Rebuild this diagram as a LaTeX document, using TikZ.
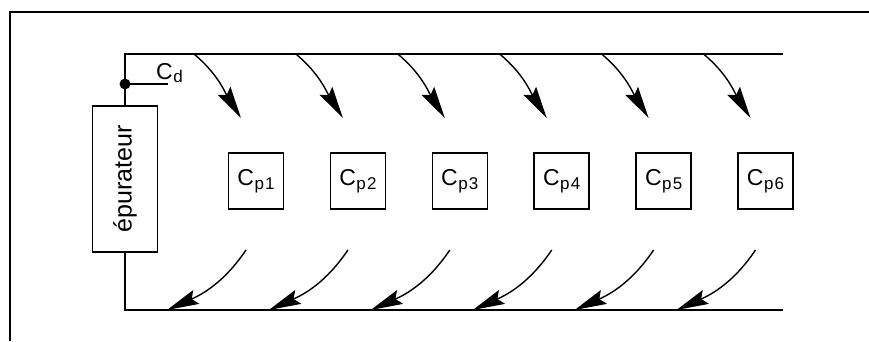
\documentclass[tikz,border=0pt]{standalone}
\usepackage{fontspec}
\setmainfont{Liberation Sans}
\usetikzlibrary{arrows.meta}
\begin{document}
\begin{tikzpicture}[x=1pt,y=1pt,
  pipe/.style={line width=1.7pt},
  cell/.style={draw,line width=1.6pt,minimum width=55pt,minimum height=56pt,inner sep=0pt,
    font=\fontsize{23}{23}\selectfont},
  flow/.style={line width=1.4pt,-{Stealth[length=32pt,width=15pt,inset=5pt]}}]
\useasboundingbox (0,0) rectangle (869,341);

% partial outer frame
\draw[line width=1.4pt] (10,0) -- (10,329) -- (869,329);

% purifier unit
\node[draw,line width=1.6pt,rotate=90,minimum width=146pt,minimum height=65pt,inner sep=0pt,
  font=\fontsize{25}{25}\selectfont] (ep) at (125,162) {épurateur};

% supply and return pipes
\coordinate (tl) at (125,287);
\coordinate (tr) at (783,287);
\coordinate (bl) at (125,31);
\coordinate (br) at (783,31);
\coordinate (j) at (125,257);
\coordinate (cd) at (168,257);
\draw[pipe] (ep.east) -- (tl) -- (tr);
\draw[pipe] (ep.west) -- (bl) -- (br);
\draw[pipe] (j) -- (cd);
\fill (j) circle (5.5pt);
\node[anchor=base west,inner sep=0pt,font=\fontsize{23}{23}\selectfont] (cdl) at (156,262)
  {C\kern0.5pt\raisebox{-3pt}{\fontsize{17}{17}\selectfont d}};

% cells with their inflow and outflow
\foreach \i in {1,...,6} {
  \pgfmathsetmacro{\cx}{256+101.9*(\i-1)}
  \node[cell] (cp\i) at (\cx,160)
    {C\kern0.5pt\raisebox{-3.5pt}{\fontsize{17}{17}\selectfont p\kern1.2pt\i}};
  \coordinate (in\i) at (\cx-62,287);
  \coordinate (it\i) at (\cx-15,223);
  \coordinate (os\i) at (\cx-10,91);
  \coordinate (ot\i) at (\cx-89,31);
  \draw[flow] (in\i) to[out=-40,in=122] (it\i);
  \draw[flow] (os\i) to[out=-124,in=24] (ot\i);
}
\end{tikzpicture}
\end{document}
